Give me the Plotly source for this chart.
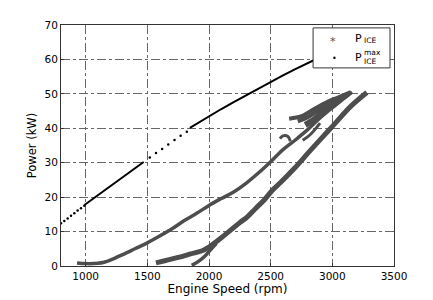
import plotly.graph_objects as go

# ---- P_ICE^max (maximum engine power curve) ----
pmax_sparse1_rpm = [800, 827, 854, 881, 908, 935, 962, 989]
pmax_sparse1_kw = [12.4, 13.1, 13.8, 14.6, 15.3, 16.1, 16.8, 17.5]
pmax_dense1_rpm = [990, 1100, 1200, 1300, 1400, 1470]
pmax_dense1_kw = [17.7, 20.6, 23.3, 25.9, 28.4, 30.2]
pmax_sparse2_rpm = [1520, 1570, 1620, 1670, 1720, 1770, 1820]
pmax_sparse2_kw = [31.5, 32.8, 34.0, 35.3, 36.6, 37.8, 39.0]
pmax_dense2_rpm = [1845, 1900, 2000, 2100, 2200, 2300, 2400, 2500, 2600, 2700, 2800, 2870, 2950]
pmax_dense2_kw = [40.1, 41.3, 43.6, 45.6, 47.6, 49.6, 51.6, 53.6, 55.4, 57.2, 59.0, 60.2, 61.5]

# ---- P_ICE (operating points) ----
pice_a_rpm = [930, 1000, 1100, 1150, 1200, 1250, 1300, 1400, 1500, 1600, 1700, 1800, 1900,
              2000, 2100, 2200, 2300, 2400, 2500, 2600, 2700, 2800, 2900, 3000, 3100, 3160]
pice_a_kw = [0.9, 0.7, 0.8, 1.1, 1.7, 2.5, 3.3, 5.0, 6.7, 8.7, 10.8, 13.2, 15.3,
             17.6, 19.6, 21.5, 24.0, 27.0, 30.3, 33.8, 36.6, 39.6, 43.0, 46.0, 48.8, 50.5]
pice_b_rpm = [1570, 1650, 1750, 1850, 1950, 2000, 2050, 2100, 2175, 2250, 2311, 2380, 2446,
              2514, 2582, 2691, 2813, 2922, 3017, 3153, 3280]
pice_b_kw = [0.9, 1.6, 2.5, 3.5, 4.5, 5.5, 6.8, 8.2, 10.4, 12.6, 14.3, 16.8, 19.1,
             22.0, 24.3, 28.3, 33.2, 37.5, 41.2, 46.5, 50.4]
pice_b2_rpm = [1860, 1920, 1970, 2020, 2060]
pice_b2_kw = [0.2, 1.5, 3.0, 5.0, 6.5]
pice_lobe_rpm = [2650, 2750, 2850, 2950, 3050, 3150]
pice_lobe_kw = [42.8, 43.5, 45.5, 47.5, 49.0, 50.5]
pice_mid_rpm = [2780, 2850, 2900, 2950, 3000, 3100]
pice_mid_kw = [41.0, 42.5, 44.0, 45.5, 47.0, 49.5]
pice_mid2_rpm = [2720, 2800, 2880, 2960, 3050, 3130]
pice_mid2_kw = [42.0, 43.2, 45.0, 46.5, 48.0, 49.8]
pice_strand_rpm = [2760, 2830, 2900]
pice_strand_kw = [36.5, 38.5, 41.5]
pice_bump_rpm = [2575, 2600, 2640, 2660]
pice_bump_kw = [37.0, 37.8, 37.6, 36.2]

x_ticks = [1000, 1500, 2000, 2500, 3000, 3500]
y_ticks = [0, 10, 20, 30, 40, 50, 60, 70]

GRAY = "#4d4d4d"
fig = go.Figure()

for xs, ys, w in [
    (pice_a_rpm, pice_a_kw, 3.5),
    (pice_b_rpm, pice_b_kw, 5),
    (pice_b2_rpm, pice_b2_kw, 3.5),
    (pice_lobe_rpm, pice_lobe_kw, 4),
    (pice_mid_rpm, pice_mid_kw, 6),
    (pice_mid2_rpm, pice_mid2_kw, 4),
    (pice_strand_rpm, pice_strand_kw, 3),
    (pice_bump_rpm, pice_bump_kw, 3),
]:
    fig.add_trace(go.Scatter(x=xs, y=ys, mode="lines",
                             line=dict(color=GRAY, width=w, shape="spline"),
                             showlegend=False, hoverinfo="skip"))

for xs, ys in [(pmax_dense1_rpm, pmax_dense1_kw), (pmax_dense2_rpm, pmax_dense2_kw)]:
    fig.add_trace(go.Scatter(x=xs, y=ys, mode="lines",
                             line=dict(color="black", width=2),
                             showlegend=False, hoverinfo="skip"))
for xs, ys in [(pmax_sparse1_rpm, pmax_sparse1_kw), (pmax_sparse2_rpm, pmax_sparse2_kw)]:
    fig.add_trace(go.Scatter(x=xs, y=ys, mode="markers",
                             marker=dict(color="black", size=2.5),
                             showlegend=False, hoverinfo="skip"))

FONT = "DejaVu Sans"
axis_common = dict(
    showgrid=True, gridcolor="#666666", griddash="dashdot", gridwidth=1,
    showline=True, linecolor="#333333", linewidth=1, mirror=True,
    ticks="inside", ticklen=3, tickcolor="#333333", zeroline=False,
    tickfont=dict(family=FONT, size=10.5, color="black"),
)
fig.update_xaxes(range=[800, 3500], tickvals=x_ticks,
                 title=dict(text="Engine Speed (rpm)", standoff=2,
                            font=dict(family=FONT, size=12, color="black")),
                 automargin=False, **axis_common)
fig.update_yaxes(range=[0, 70], tickvals=y_ticks,
                 title=dict(text="Power (kW)", standoff=5,
                            font=dict(family=FONT, size=11.5, color="black")),
                 automargin=False, **axis_common)

# manual legend box
fig.add_shape(type="rect", xref="paper", yref="paper",
              x0=0.757, x1=0.988, y0=0.822, y1=0.988,
              fillcolor="white", line=dict(color="#333333", width=1), layer="above")
ann = dict(xref="paper", yref="paper", showarrow=False, yanchor="middle")
fig.add_annotation(text="*", x=0.817, y=0.930, xanchor="center",
                   font=dict(family=FONT, size=11, color=GRAY), **ann)
fig.add_annotation(text="•", x=0.820, y=0.862, xanchor="center",
                   font=dict(family=FONT, size=8, color="black"), **ann)
fig.add_annotation(text="P", x=0.877, y=0.945, xanchor="left",
                   font=dict(family=FONT, size=11, color="black"), **ann)
fig.add_annotation(text="ICE", x=0.903, y=0.937, xanchor="left",
                   font=dict(family=FONT, size=7.5, color="black"), **ann)
fig.add_annotation(text="P", x=0.877, y=0.864, xanchor="left",
                   font=dict(family=FONT, size=11, color="black"), **ann)
fig.add_annotation(text="ICE", x=0.903, y=0.850, xanchor="left",
                   font=dict(family=FONT, size=7.5, color="black"), **ann)
fig.add_annotation(text="max", x=0.903, y=0.887, xanchor="left",
                   font=dict(family=FONT, size=7.5, color="black"), **ann)

# page body has an 8px margin, so the figure is 8px smaller and margins shifted
fig.update_layout(
    width=425, height=292,
    margin=dict(l=53, r=39, t=17, b=34),
    plot_bgcolor="white", paper_bgcolor="white",
    showlegend=False,
)
fig.write_html("out.html")
